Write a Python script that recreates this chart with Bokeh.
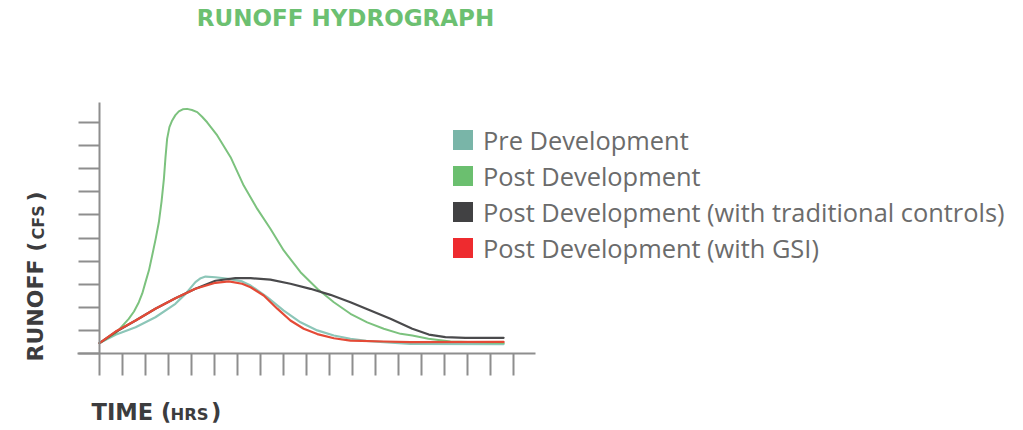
import math
import numpy as np
from bokeh.plotting import figure
from bokeh.models import (Range1d, LinearAxis, FixedTicker, CustomJSTickFormatter,
                          Label, Legend, LegendItem)
from bokeh.embed import file_html
from bokeh.resources import INLINE

# ---------------- data ----------------
title_text = "RUNOFF HYDROGRAPH"
series_names = ["Pre Development", "Post Development",
                "Post Development (with traditional controls)",
                "Post Development (with GSI)"]

pre_x = [0, 0.70, 1.57, 2.43, 3.30, 3.74, 4.17, 4.40, 4.61, 5.04, 5.61, 6.20, 6.57, 7.29,
         8.01, 8.74, 9.47, 10.19, 10.91, 11.60, 12.36, 13.52, 17.57]
pre_y = [0.45, 0.81, 1.14, 1.57, 2.15, 2.58, 3.09, 3.26, 3.33, 3.30, 3.23, 3.12, 2.94, 2.44,
         1.86, 1.35, 1.00, 0.78, 0.64, 0.55, 0.49, 0.42, 0.41]

post_x = [0, 0.70, 1.27, 1.50, 1.71, 1.86, 2.00, 2.15, 2.29, 2.44, 2.58, 2.70, 2.80,
          2.87, 2.94, 3.04, 3.16, 3.30, 3.45, 3.62, 3.81, 4.02, 4.25, 4.46, 4.68,
          5.12, 5.70, 6.27, 6.86, 7.43, 8.01, 8.74, 9.47, 10.19, 10.91, 11.64,
          12.36, 13.09, 13.60, 14.30, 15.26, 17.57]
post_y = [0.45, 0.87, 1.50, 1.82, 2.22, 2.60, 3.09, 3.60, 4.24, 4.95, 5.68, 6.60, 7.56,
          8.50, 9.29, 9.80, 10.09, 10.32, 10.48, 10.57, 10.59, 10.54, 10.45, 10.25, 10.01,
          9.44, 8.50, 7.27, 6.26, 5.40, 4.46, 3.52, 2.80, 2.22, 1.72, 1.35,
          1.07, 0.85, 0.78, 0.64, 0.52, 0.45]

trad_x = [0, 0.70, 1.57, 2.43, 3.30, 4.17, 5.04, 5.91, 6.57, 7.43, 8.30, 9.17, 10.04,
          10.91, 11.78, 12.65, 13.60, 14.32, 15.04, 15.91, 17.57]
trad_y = [0.45, 0.93, 1.43, 1.94, 2.39, 2.80, 3.15, 3.26, 3.26, 3.20, 3.02, 2.80, 2.54,
          2.22, 1.86, 1.50, 1.07, 0.82, 0.71, 0.68, 0.68]

gsi_x = [0, 0.70, 1.57, 2.43, 3.30, 4.17, 5.04, 5.62, 6.20, 6.57, 7.14, 7.73, 8.30,
         8.88, 9.47, 10.19, 10.91, 12.36, 13.52, 17.57]
gsi_y = [0.45, 0.95, 1.43, 1.94, 2.39, 2.80, 3.06, 3.12, 3.02, 2.87, 2.51, 1.94, 1.43,
         1.07, 0.84, 0.66, 0.56, 0.52, 0.49, 0.50]

x_ticks = list(range(0, 19))
y_ticks = list(range(0, 11))

# ---------------- styling / geometry ----------------
line_colors = ["#8cc6b8", "#7cc27e", "#4a4a4c", "#e44a36"]
swatch_colors = ["#79b5a8", "#6bbf6f", "#414143", "#ee2b2f"]
AX = "#8e8e8e"

W, H = 1015, 428
PX0, PXS = 99, 23.0      # canvas x of data x=0, px per x unit
PY0, PYS = 353, 23.1     # canvas y of data y=0, px per y unit


def dx(px):
    return (px - PX0) / PXS


def dy(py):
    return (PY0 - py) / PYS


x_range = Range1d(dx(0), dx(W))
y_range = Range1d(dy(H), dy(0))

p = figure(width=W, height=H, x_range=x_range, y_range=y_range,
           x_axis_type=None, y_axis_type=None, toolbar_location=None,
           output_backend="svg", min_border=0, min_border_left=0, min_border_right=0,
           min_border_top=0, min_border_bottom=0)
p.outline_line_color = None
p.xgrid.visible = False
p.ygrid.visible = False
p.background_fill_color = "white"
p.border_fill_color = "white"

xa = LinearAxis(fixed_location=0, ticker=FixedTicker(ticks=x_ticks, minor_ticks=[]),
                bounds=(dx(77), dx(535)), formatter=CustomJSTickFormatter(code="return ''"),
                major_tick_out=22, major_tick_in=0, minor_tick_out=0, minor_tick_in=0,
                axis_line_color=AX, axis_line_width=2,
                major_tick_line_color=AX, major_tick_line_width=2)
p.add_layout(xa, "below")

ya = LinearAxis(fixed_location=0, ticker=FixedTicker(ticks=y_ticks, minor_ticks=[]),
                bounds=(0, dy(102)), formatter=CustomJSTickFormatter(code="return ''"),
                major_tick_out=21, major_tick_in=0, minor_tick_out=0, minor_tick_in=0,
                axis_line_color=AX, axis_line_width=2,
                major_tick_line_color=AX, major_tick_line_width=2)
p.add_layout(ya, "left")

# ---------------- curves ----------------
xs = [pre_x, post_x, trad_x, gsi_x]
ys = [pre_y, post_y, trad_y, gsi_y]
widths = [2.2, 2.0, 2.2, 2.2]
for i in [0, 1, 2, 3]:
    p.line(xs[i], ys[i], line_color=line_colors[i], line_width=widths[i],
           line_join="round", line_cap="round")

# ---------------- legend (square swatches) ----------------
items = []
nan = np.array([np.nan])
for name, c in zip(series_names, swatch_colors):
    r = p.quad(left=nan, right=nan, bottom=nan, top=nan, fill_color=c, line_alpha=0)
    items.append(LegendItem(label=name, renderers=[r]))

legend = Legend(items=items, location=(450, 163), orientation="vertical",
                glyph_width=25, glyph_height=25, label_height=35, spacing=1,
                padding=0, margin=0, label_standoff=8,
                label_text_font="Open Sans", label_text_font_size="25.4px",
                label_text_color="#6b6b6b", border_line_alpha=0,
                background_fill_alpha=0)
p.add_layout(legend)

# ---------------- texts (anchors are text centres) ----------------
TF = "DejaVu Sans"
p.add_layout(Label(x=dx(345), y=dy(17), text=title_text, text_align="center",
                   text_baseline="alphabetic", text_font=TF, text_font_style="bold",
                   text_font_size="23px", text_color="#6cc071"))

LBL = "#3c3c3e"
p.add_layout(Label(x=dx(91), y=dy(411), text="TIME (", text_font=TF,
                   text_font_style="bold", text_font_size="22.6px", text_color=LBL,
                   text_baseline="alphabetic"))
p.add_layout(Label(x=dx(170), y=dy(413.5), text="HRS", text_font=TF,
                   text_font_style="bold", text_font_size="16.4px", text_color=LBL,
                   text_baseline="alphabetic"))
p.add_layout(Label(x=dx(210.5), y=dy(411), text=")", text_font=TF,
                   text_font_style="bold", text_font_size="22.6px", text_color=LBL,
                   text_baseline="alphabetic"))

ang = math.pi / 2
p.add_layout(Label(x=dx(35), y=dy(361), text="RUNOFF (", angle=ang, text_font=TF,
                   text_font_style="bold", text_font_size="22px", text_color=LBL,
                   text_baseline="alphabetic"))
p.add_layout(Label(x=dx(37.5), y=dy(239), text="CFS", angle=ang, text_font=TF,
                   text_font_style="bold", text_font_size="16px", text_color=LBL,
                   text_baseline="alphabetic"))
p.add_layout(Label(x=dx(35), y=dy(201), text=")", angle=ang, text_font=TF,
                   text_font_style="bold", text_font_size="22px", text_color=LBL,
                   text_baseline="alphabetic"))

open("out.html", "w").write(file_html(p, INLINE))
